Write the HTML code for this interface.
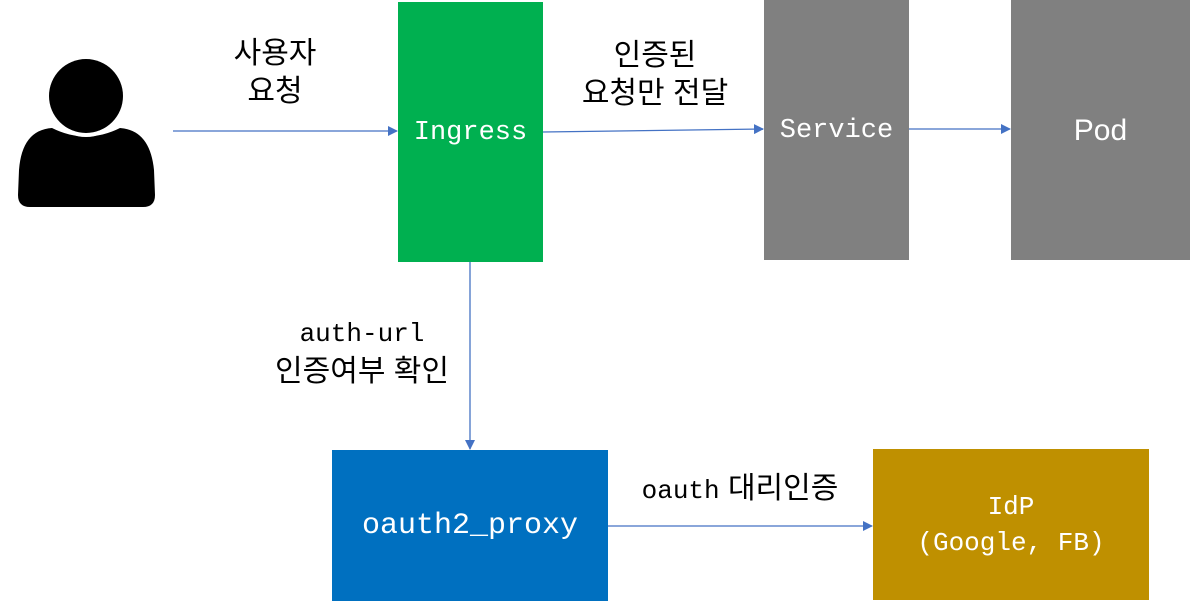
<!DOCTYPE html>
<html><head><meta charset="utf-8"><style>
body{margin:0;width:1190px;height:601px;background:#fff;position:relative;overflow:hidden;font-family:"Liberation Sans","Noto Sans CJK KR",sans-serif}
.b{position:absolute;display:flex;align-items:center;justify-content:center;color:#fff;text-align:center}
.m{font-family:"Liberation Mono","Noto Sans CJK KR",monospace}
.t{position:absolute;text-align:center;font-size:30px;line-height:38px;color:#000}
</style></head><body>
<svg width="1190" height="601" style="position:absolute;left:0;top:0">
<defs><marker id="a" markerWidth="10" markerHeight="10" refX="9" refY="5" orient="auto" markerUnits="userSpaceOnUse"><path d="M0,0 L10,5 L0,10 z" fill="#4472c4"/></marker></defs>
<path d="M52,128 Q86,145 120,128 Q150,130 154,170 L155,195 Q155,207 143,207 L30,207 Q18,207 18,195 L19,170 Q22,130 52,128 z" fill="#000"/>
<circle cx="86" cy="96" r="41" fill="#fff"/>
<circle cx="86" cy="96" r="37" fill="#000"/>
<line x1="173" y1="131" x2="397" y2="131" stroke="#4472c4" stroke-width="1.3" marker-end="url(#a)"/>
<line x1="543" y1="132" x2="763" y2="129" stroke="#4472c4" stroke-width="1.3" marker-end="url(#a)"/>
<line x1="909" y1="129" x2="1010" y2="129" stroke="#4472c4" stroke-width="1.3" marker-end="url(#a)"/>
<line x1="470" y1="262" x2="470" y2="449" stroke="#4472c4" stroke-width="1.3" marker-end="url(#a)"/>
<line x1="608" y1="526" x2="872" y2="526" stroke="#4472c4" stroke-width="1.3" marker-end="url(#a)"/>
</svg>
<div class="t" style="left:190px;top:35px;width:170px">사용자<br>요청</div>
<div class="t" style="left:550px;top:37px;width:210px">인증된<br>요청만 전달</div>
<div class="t" style="left:240px;top:313px;width:244px"><span class="m" style="font-size:26px">auth-url</span><br>인증여부 확인</div>
<div class="t" style="left:600px;top:470px;width:280px"><span class="m" style="font-size:26px">oauth</span> 대리인증</div>
<div class="b m" style="left:398px;top:5px;width:145px;height:257px;background:#00b050;font-size:27px;padding-bottom:3px;box-sizing:border-box;height:257px"><span style="position:relative;top:1px">Ingress</span></div>
<div style="position:absolute;left:398px;top:2px;width:145px;height:3px;background:#00b050"></div>
<div class="b m" style="left:764px;top:0;width:145px;height:262px;background:#808080;font-size:27px">Service</div>
<div class="b" style="left:1011px;top:0;width:179px;height:262px;background:#808080;font-size:30px">Pod</div>
<div style="position:absolute;left:764px;top:260px;width:145px;height:3px;background:#fff"></div>
<div style="position:absolute;left:1011px;top:260px;width:179px;height:3px;background:#fff"></div>
<div class="b m" style="left:332px;top:450px;width:276px;height:151px;background:#0070c0;font-size:30px">oauth2_proxy</div>
<div class="b m" style="left:873px;top:449px;width:276px;height:151px;background:#bf9000;font-size:26px;line-height:36px">IdP<br>(Google, FB)</div>
</body></html>
